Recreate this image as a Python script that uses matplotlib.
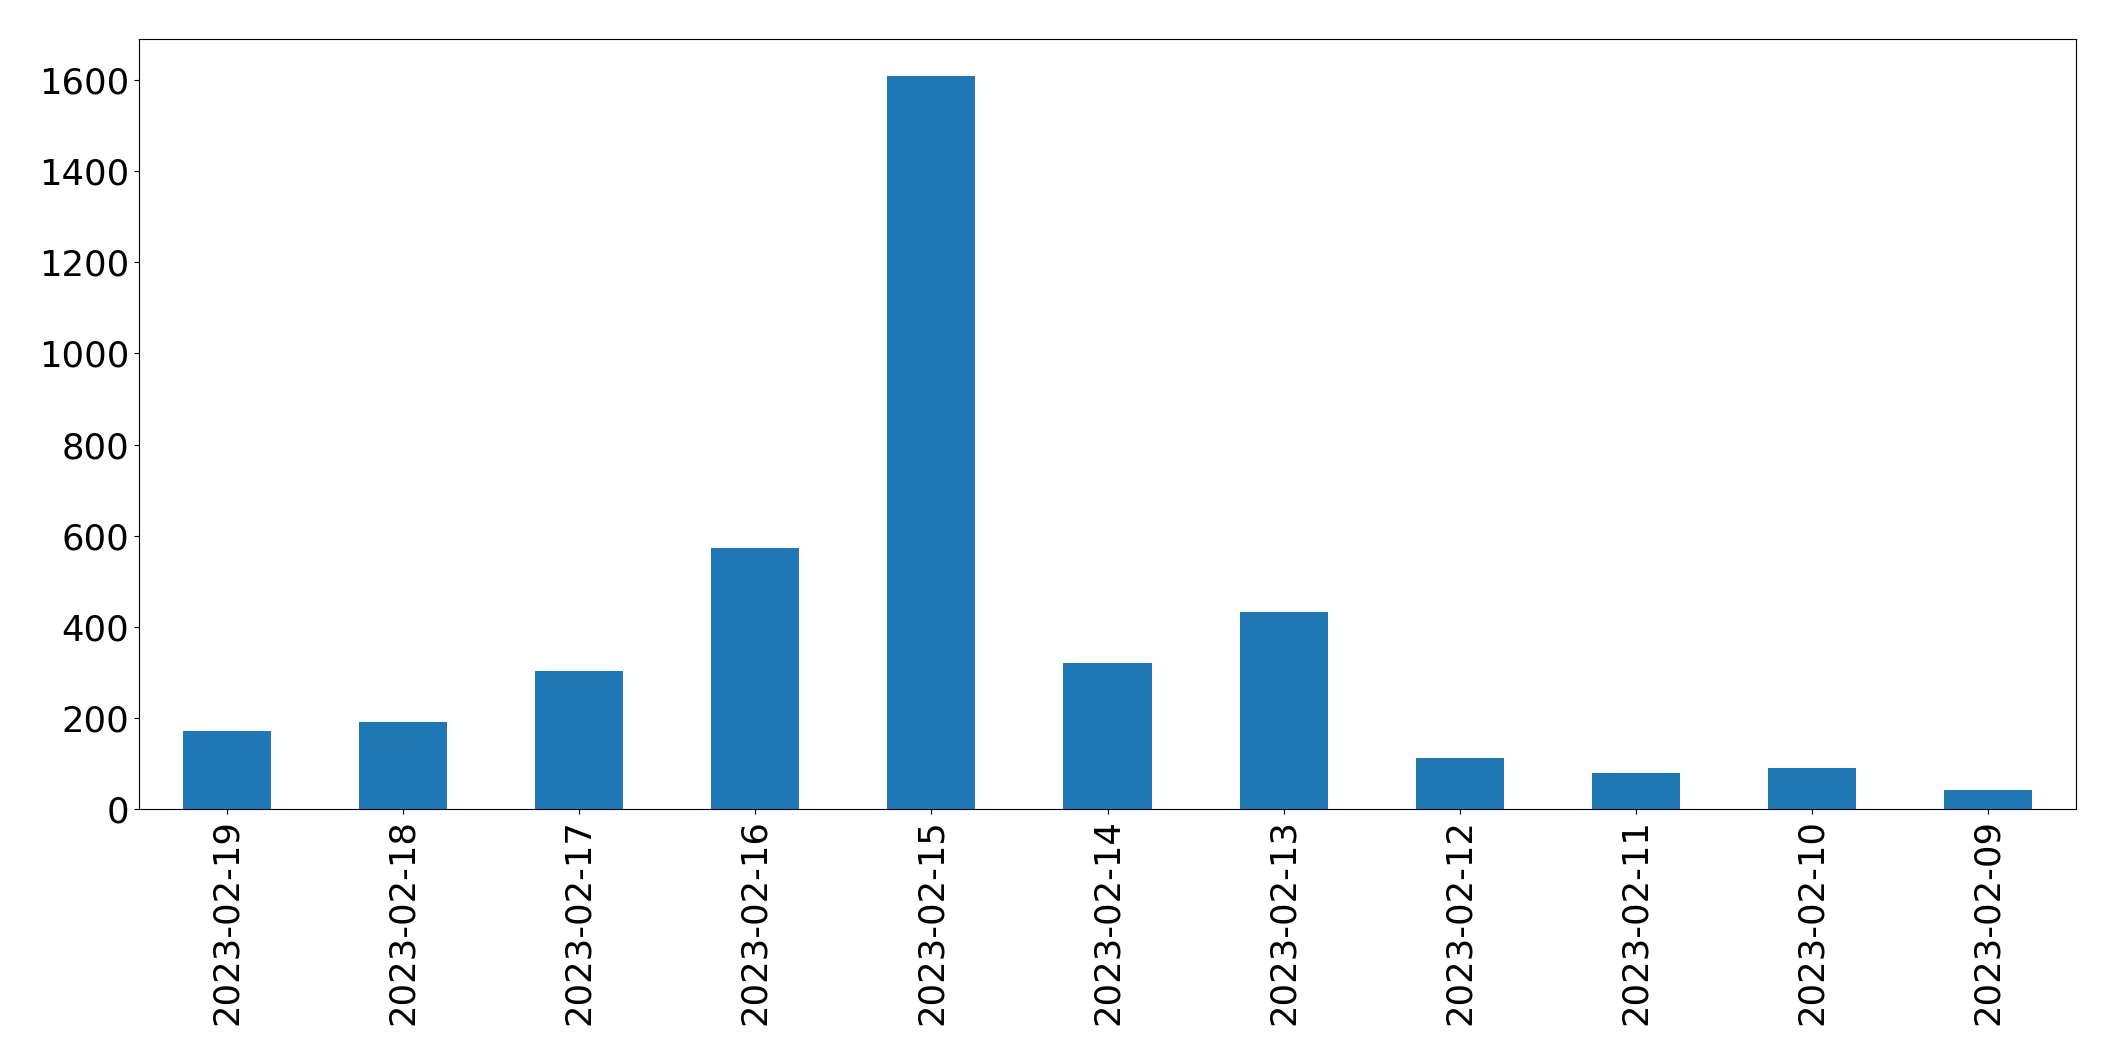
import numpy as np
import matplotlib
matplotlib.use("Agg")
import matplotlib.pyplot as plt

dates = ['2023-02-19', '2023-02-18', '2023-02-17', '2023-02-16', '2023-02-15',
         '2023-02-14', '2023-02-13', '2023-02-12', '2023-02-11', '2023-02-10',
         '2023-02-09']
counts = [172, 190, 302, 573, 1609, 320, 433, 113, 80, 89, 41]

fig = plt.figure(figsize=(21.15, 10.61), dpi=100)
ax = fig.add_axes([0.0657, 0.2375, 0.9159, 0.7255])

x = np.arange(len(dates))
ax.bar(x, counts, width=0.5, color='#1f77b4')
ax.set_xlim(-0.5, len(dates) - 0.5)
ax.set_ylim(0, max(counts) * 1.05)
ax.set_xticks(x)
ax.set_xticklabels(dates, rotation=90)
ax.tick_params(labelsize=25.5)

fig.savefig('out.png', dpi=100)
